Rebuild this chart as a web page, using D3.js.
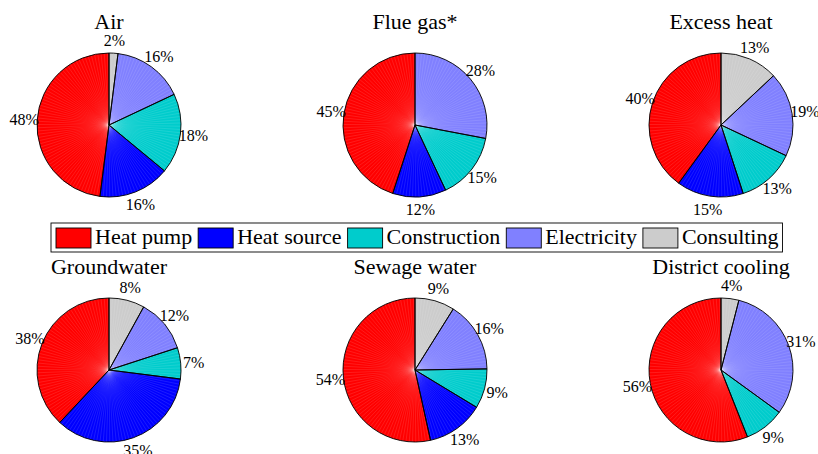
<!DOCTYPE html>
<html>
<head>
<meta charset="utf-8">
<script src="https://cdn.jsdelivr.net/npm/d3@7"></script>
<style>
  body { margin: 0; background: #fff; }
</style>
</head>
<body>
<div id="chart-area"></div>
<script>

// DATA

let categories = ["Heat pump", "Heat source", "Construction", "Electricity", "Consulting"];
let colors = ["#ff0000", "#0000ff", "#00cccc", "#8080ff", "#cccccc"];

let titles = ["Air", "Flue gas*", "Excess heat", "Groundwater", "Sewage water", "District cooling"];

let air = [48, 16, 18, 16, 2];
let flueGas = [45, 12, 15, 28, 0];
let excessHeat = [40, 15, 13, 19, 13];
let groundwater = [38, 35, 7, 12, 8];
let sewageWater = [54, 13, 9, 16, 9];
let districtCooling = [56, 0, 9, 31, 4];

let series = [air, flueGas, excessHeat, groundwater, sewageWater, districtCooling];


// CHART AREA

let width = 818,
	height = 454;

let fontFamily = "'Liberation Serif'";

let svg = d3.select("#chart-area").append("svg")
	.attr("width", width)
	.attr("height", height);

let radius = 72,
	labelRadius = 85;

let colX = [109, 415, 721],
	rowY = [125, 370];

let color = d3.scaleOrdinal()
	.domain(categories)
	.range(colors);

// pgf-pie style: first slice starts at the top, going counter-clockwise
let pie = d3.pie()
	.sort(null)
	.startAngle(0)
	.endAngle(-2 * Math.PI);

let arc = d3.arc()
	.innerRadius(0)
	.outerRadius(radius);

let labelArc = d3.arc()
	.innerRadius(labelRadius)
	.outerRadius(labelRadius);


// ---- DRAW PIES ----
series.forEach(function(values, i) {
	let cx = colX[i % 3],
		cy = rowY[Math.floor(i / 3)];

	let rows = values.map((v, j) => ({cat: categories[j], value: v}));
	let arcs = pie.value(d => d.value)(rows).filter(d => d.data.value > 0);

	let g = svg.append("g")
		.attr("transform", "translate(" + cx + "," + cy + ")");

	g.selectAll(".slice")
		.data(arcs)
		.enter()
		.append("path")
		.attr("class", "slice")
		.attr("d", arc)
		.attr("fill", d => color(d.data.cat))
		.attr("stroke", "none");

	// faint radial streaks like the shaded original
	let streaks = d3.range(0, 360, 2.6);
	g.selectAll(".streak")
		.data(streaks)
		.enter()
		.append("line")
		.attr("class", "streak")
		.attr("x1", 0).attr("y1", 0)
		.attr("x2", a => radius * Math.sin(a * Math.PI / 180))
		.attr("y2", a => -radius * Math.cos(a * Math.PI / 180))
		.attr("stroke", "#fff")
		.attr("stroke-opacity", 0.22)
		.attr("stroke-width", 0.5);

	g.selectAll(".outline")
		.data(arcs)
		.enter()
		.append("path")
		.attr("class", "outline")
		.attr("d", arc)
		.attr("fill", "none")
		.attr("stroke", "#000")
		.attr("stroke-width", 0.9)
		.attr("stroke-linejoin", "round");

	g.selectAll(".pct")
		.data(arcs)
		.enter()
		.append("text")
		.attr("class", "pct")
		.attr("transform", d => "translate(" + labelArc.centroid(d) + ")")
		.attr("text-anchor", "middle")
		.attr("dy", "0.35em")
		.style("font-family", fontFamily)
		.style("font-size", "16px")
		.text(d => d.data.value + "%");

	svg.append("text")
		.attr("x", cx)
		.attr("y", cy - 96)
		.attr("text-anchor", "middle")
		.style("font-family", fontFamily)
		.style("font-size", "22px")
		.text(titles[i]);
});


// ---- LEGEND ----
let legend = svg.append("g")
	.attr("class", "legend");

let boxLeft = 51,
	boxTop = 223,
	boxHeight = 29,
	swW = 35,
	swH = 20;

let lx = boxLeft + 5;
categories.forEach(function(c, k) {
	legend.append("rect")
		.attr("x", lx)
		.attr("y", boxTop + 5)
		.attr("width", swW)
		.attr("height", swH)
		.attr("fill", color(c))
		.attr("stroke", "#000")
		.attr("stroke-width", 0.9);

	let t = legend.append("text")
		.attr("x", lx + swW + 4)
		.attr("y", boxTop + 21)
		.style("font-family", fontFamily)
		.style("font-size", "22px")
		.text(c);

	lx += swW + 4 + t.node().getComputedTextLength() + (k < categories.length - 1 ? 6 : 4);
});

legend.insert("rect", ":first-child")
	.attr("x", boxLeft)
	.attr("y", boxTop)
	.attr("width", lx - boxLeft)
	.attr("height", boxHeight)
	.attr("fill", "#fff")
	.attr("stroke", "#000")
	.attr("stroke-width", 0.9);

</script>
</body>
</html>
